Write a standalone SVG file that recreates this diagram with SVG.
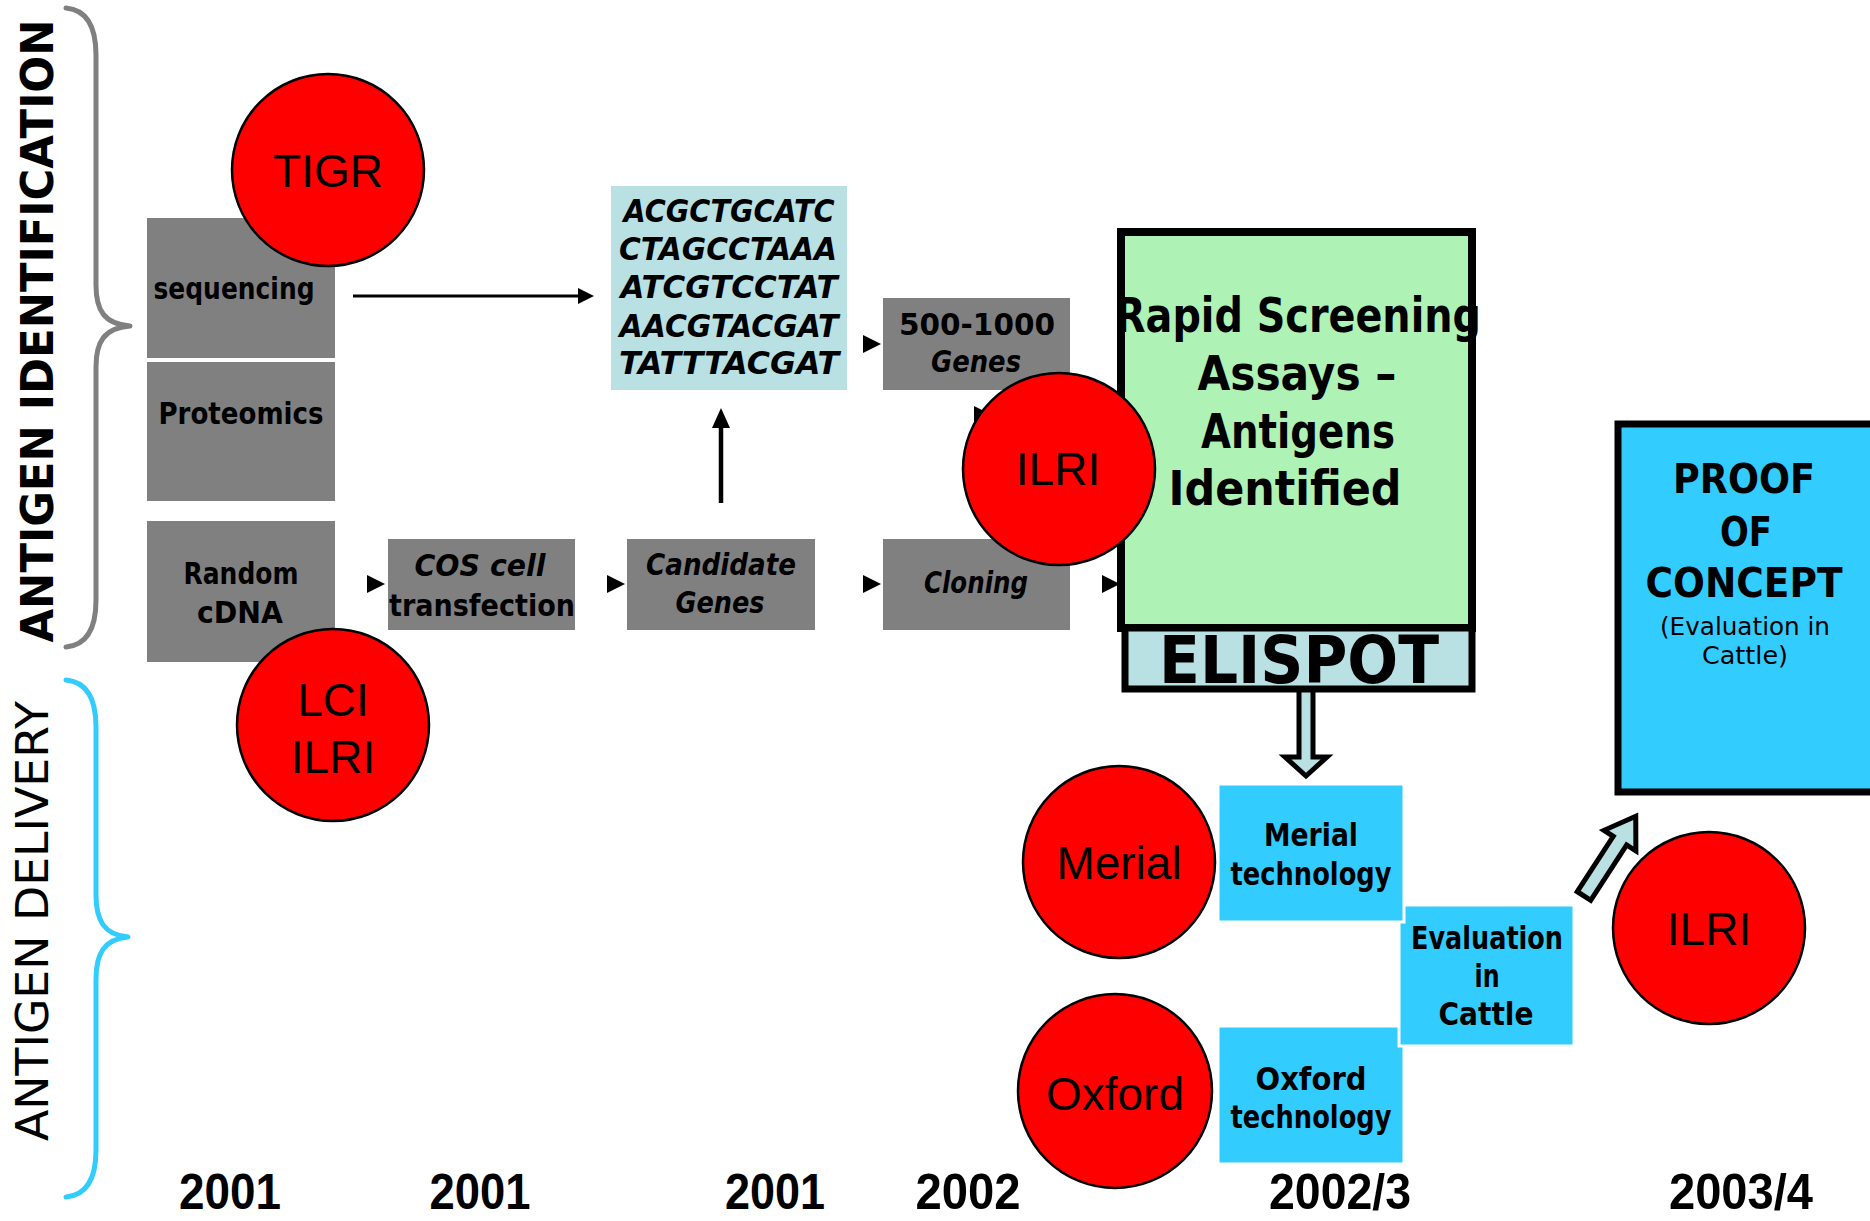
<svg xmlns="http://www.w3.org/2000/svg" width="1870" height="1221" viewBox="0 0 1870 1221">
<style>
.cm{font-family:'Comic Sans MS','DejaVu Sans',sans-serif;font-weight:bold;fill:#000;text-anchor:middle}
.rg{font-weight:normal}
.it{font-style:italic}
.ar{font-family:'Liberation Sans',Arial,sans-serif;fill:#000;text-anchor:middle;font-size:46px}
.yr{font-family:'Liberation Sans',Arial,sans-serif;font-weight:bold;font-size:50px;fill:#000;text-anchor:middle}
.gray{fill:#808080}
.cyan{fill:#33ccff;stroke:#fff;stroke-width:3}
.org{fill:#ff0000;stroke:#000;stroke-width:2.5}
.brace{fill:none;stroke-width:5;stroke-linecap:round;stroke-linejoin:round}
.blk{fill:#b9e0e3;stroke:#000;stroke-width:5;stroke-linejoin:miter}
.ln{stroke:#000;fill:none}
</style>
<defs>
<marker id="headS" markerUnits="userSpaceOnUse" markerWidth="16" markerHeight="16" refX="0" refY="8" orient="auto"><path d="M0,0 L16,8 L0,16 Z" fill="#000"/></marker>
<marker id="headL" markerUnits="userSpaceOnUse" markerWidth="20" markerHeight="20" refX="0" refY="10" orient="auto"><path d="M0,1 L20,10 L0,19 Z" fill="#000"/></marker>
<path id="tri" d="M0,-9 L18,0 L0,9 Z" fill="#000"/>
</defs>
<rect width="1870" height="1221" fill="#fff"/>

<g id="brace-identification">
<path class="brace" stroke="#808080" d="M66,8 C88,10 96,28 96,55 L96,285 C96,310 104,324 130,326 C104,328 96,342 96,367 L96,600 C96,627 88,645 66,647"/>
<text class="cm" font-size="44" textLength="623" lengthAdjust="spacingAndGlyphs" transform="translate(53,331) rotate(-90)">ANTIGEN IDENTIFICATION</text>
</g>
<g id="brace-delivery">
<path class="brace" stroke="#33ccff" d="M66,680 C88,682 96,700 96,727 L96,895 C96,920 104,935 128,937 C104,939 96,954 96,979 L96,1150 C96,1177 88,1195 66,1197"/>
<text class="cm rg" font-size="44" textLength="440" lengthAdjust="spacingAndGlyphs" transform="translate(48,921) rotate(-90)">ANTIGEN DELIVERY</text>
</g>

<g id="sequencing">
<rect class="gray" x="147" y="218" width="188" height="140"/>
<text class="cm" x="234" y="299" font-size="30" textLength="161" lengthAdjust="spacingAndGlyphs">sequencing</text>
</g>
<g id="proteomics">
<rect class="gray" x="147" y="362" width="188" height="139"/>
<text class="cm" x="241" y="424" font-size="31" textLength="165" lengthAdjust="spacingAndGlyphs">Proteomics</text>
</g>
<g id="random-cdna">
<rect class="gray" x="147" y="521" width="188" height="141"/>
<text class="cm" x="241" y="584" font-size="31" textLength="115" lengthAdjust="spacingAndGlyphs">Random</text>
<text class="cm" x="240" y="623" font-size="31" textLength="86" lengthAdjust="spacingAndGlyphs">cDNA</text>
</g>
<g id="cos">
<rect class="gray" x="388" y="539" width="187" height="91"/>
<text class="cm it" x="480" y="576" font-size="31" textLength="131" lengthAdjust="spacingAndGlyphs">COS cell</text>
<text class="cm" x="482" y="616" font-size="31" textLength="186" lengthAdjust="spacingAndGlyphs">transfection</text>
</g>
<g id="sequence-data">
<rect x="611" y="186" width="236" height="204" fill="#b9e0e3"/>
<text class="cm it" x="729" y="222" font-size="32" textLength="211" lengthAdjust="spacingAndGlyphs">ACGCTGCATC</text>
<text class="cm it" x="728" y="260" font-size="32" textLength="218" lengthAdjust="spacingAndGlyphs">CTAGCCTAAA</text>
<text class="cm it" x="729" y="298" font-size="32" textLength="217" lengthAdjust="spacingAndGlyphs">ATCGTCCTAT</text>
<text class="cm it" x="729" y="337" font-size="32" textLength="219" lengthAdjust="spacingAndGlyphs">AACGTACGAT</text>
<text class="cm it" x="729" y="374" font-size="32" textLength="220" lengthAdjust="spacingAndGlyphs">TATTTACGAT</text>
</g>
<g id="genes-500-1000">
<rect class="gray" x="883" y="298" width="187" height="92"/>
<text class="cm" x="977" y="335" font-size="31" textLength="156" lengthAdjust="spacingAndGlyphs">500-1000</text>
<text class="cm it" x="976" y="372" font-size="31" textLength="90" lengthAdjust="spacingAndGlyphs">Genes</text>
</g>
<g id="candidate-genes">
<rect class="gray" x="627" y="539" width="188" height="91"/>
<text class="cm it" x="721" y="575" font-size="31" textLength="150" lengthAdjust="spacingAndGlyphs">Candidate</text>
<text class="cm it" x="720" y="613" font-size="31" textLength="89" lengthAdjust="spacingAndGlyphs">Genes</text>
</g>
<g id="cloning">
<rect class="gray" x="883" y="539" width="187" height="91"/>
<text class="cm it" x="976" y="593" font-size="31" textLength="104" lengthAdjust="spacingAndGlyphs">Cloning</text>
</g>
<g id="rapid-screening">
<rect x="1121" y="232" width="351" height="396" fill="#aef3b5" stroke="#000" stroke-width="8"/>
<rect x="1125" y="628" width="347" height="61" fill="#b9e0e3" stroke="#000" stroke-width="7"/>
<text class="cm" x="1298" y="332" font-size="48" textLength="366" lengthAdjust="spacingAndGlyphs">Rapid Screening</text>
<text class="cm" x="1297" y="390" font-size="48" textLength="199" lengthAdjust="spacingAndGlyphs">Assays –</text>
<text class="cm" x="1298" y="448" font-size="48" textLength="194" lengthAdjust="spacingAndGlyphs">Antigens</text>
<text class="cm" x="1285" y="505" font-size="48" textLength="233" lengthAdjust="spacingAndGlyphs">Identified</text>
<text class="cm" x="1299" y="683" font-size="66" textLength="280" lengthAdjust="spacingAndGlyphs">ELISPOT</text>
</g>
<g id="proof-of-concept">
<rect x="1618" y="424" width="270" height="368" fill="#33ccff" stroke="#000" stroke-width="7"/>
<text class="cm" x="1744" y="493" font-size="40" textLength="142" lengthAdjust="spacingAndGlyphs">PROOF</text>
<text class="cm" x="1746" y="546" font-size="40" textLength="52" lengthAdjust="spacingAndGlyphs">OF</text>
<text class="cm" x="1744" y="597" font-size="40" textLength="197" lengthAdjust="spacingAndGlyphs">CONCEPT</text>
<text class="cm rg" x="1745" y="635" font-size="24" textLength="170" lengthAdjust="spacingAndGlyphs">(Evaluation in</text>
<text class="cm rg" x="1745" y="664" font-size="24" textLength="86" lengthAdjust="spacingAndGlyphs">Cattle)</text>
</g>
<g id="oxford-technology">
<rect class="cyan" x="1218" y="1026" width="186" height="138"/>
<text class="cm" x="1311" y="1090" font-size="32" textLength="111" lengthAdjust="spacingAndGlyphs">Oxford</text>
<text class="cm" x="1311" y="1128" font-size="32" textLength="161" lengthAdjust="spacingAndGlyphs">technology</text>
</g>
<g id="evaluation-in-cattle">
<rect class="cyan" x="1399" y="905" width="175" height="141"/>
<text class="cm" x="1487" y="949" font-size="32" textLength="152" lengthAdjust="spacingAndGlyphs">Evaluation</text>
<text class="cm" x="1487" y="987" font-size="32" textLength="25" lengthAdjust="spacingAndGlyphs">in</text>
<text class="cm" x="1486" y="1025" font-size="32" textLength="95" lengthAdjust="spacingAndGlyphs">Cattle</text>
</g>
<g id="merial-technology">
<rect class="cyan" x="1218" y="784" width="186" height="138"/>
<text class="cm" x="1311" y="846" font-size="32" textLength="94" lengthAdjust="spacingAndGlyphs">Merial</text>
<text class="cm" x="1311" y="885" font-size="32" textLength="161" lengthAdjust="spacingAndGlyphs">technology</text>
</g>

<g id="connectors">
<line class="ln" x1="353" y1="296" x2="578" y2="296" stroke-width="3" marker-end="url(#headS)"/>
<line class="ln" x1="721" y1="503" x2="721" y2="428" stroke-width="4.5" marker-end="url(#headL)"/>
<use href="#tri" x="367" y="584"/>
<use href="#tri" x="607" y="584"/>
<use href="#tri" x="863" y="584"/>
<use href="#tri" x="1102" y="584"/>
<use href="#tri" x="863" y="344"/>
<use href="#tri" x="974" y="415"/>
<path class="blk" d="M1299,690 L1313,690 L1313,757 L1327,757 L1306,776 L1285,757 L1299,757 Z"/>
<path class="blk" stroke-width="4.5" d="M0,-8 L66,-8 L66,-19 L95,0 L66,19 L66,8 L0,8 Z" transform="translate(1584,896) rotate(-57)"/>
</g>

<g id="tigr">
<circle class="org" cx="328" cy="170" r="96"/>
<text class="ar" x="328" y="187">TIGR</text>
</g>
<g id="lci-ilri">
<circle class="org" cx="333" cy="725" r="96"/>
<text class="ar" x="333" y="716" font-size="47">LCI</text>
<text class="ar" x="333" y="773" font-size="47">ILRI</text>
</g>
<g id="ilri-screening">
<circle class="org" cx="1059" cy="469" r="96"/>
<text class="ar" x="1058" y="485">ILRI</text>
</g>
<g id="merial">
<circle class="org" cx="1119" cy="862" r="96"/>
<text class="ar" x="1119" y="879">Merial</text>
</g>
<g id="oxford">
<circle class="org" cx="1115" cy="1091" r="97"/>
<text class="ar" x="1115" y="1110">Oxford</text>
</g>
<g id="ilri-cattle">
<circle class="org" cx="1709" cy="928" r="96"/>
<text class="ar" x="1709" y="945">ILRI</text>
</g>

<g id="years">
<text class="yr" x="230" y="1209" textLength="102" lengthAdjust="spacingAndGlyphs">2001</text>
<text class="yr" x="480" y="1209" textLength="101" lengthAdjust="spacingAndGlyphs">2001</text>
<text class="yr" x="775" y="1209" textLength="100" lengthAdjust="spacingAndGlyphs">2001</text>
<text class="yr" x="968" y="1209" textLength="105" lengthAdjust="spacingAndGlyphs">2002</text>
<text class="yr" x="1340" y="1209" textLength="142" lengthAdjust="spacingAndGlyphs">2002/3</text>
<text class="yr" x="1741" y="1209" textLength="144" lengthAdjust="spacingAndGlyphs">2003/4</text>
</g>
</svg>
